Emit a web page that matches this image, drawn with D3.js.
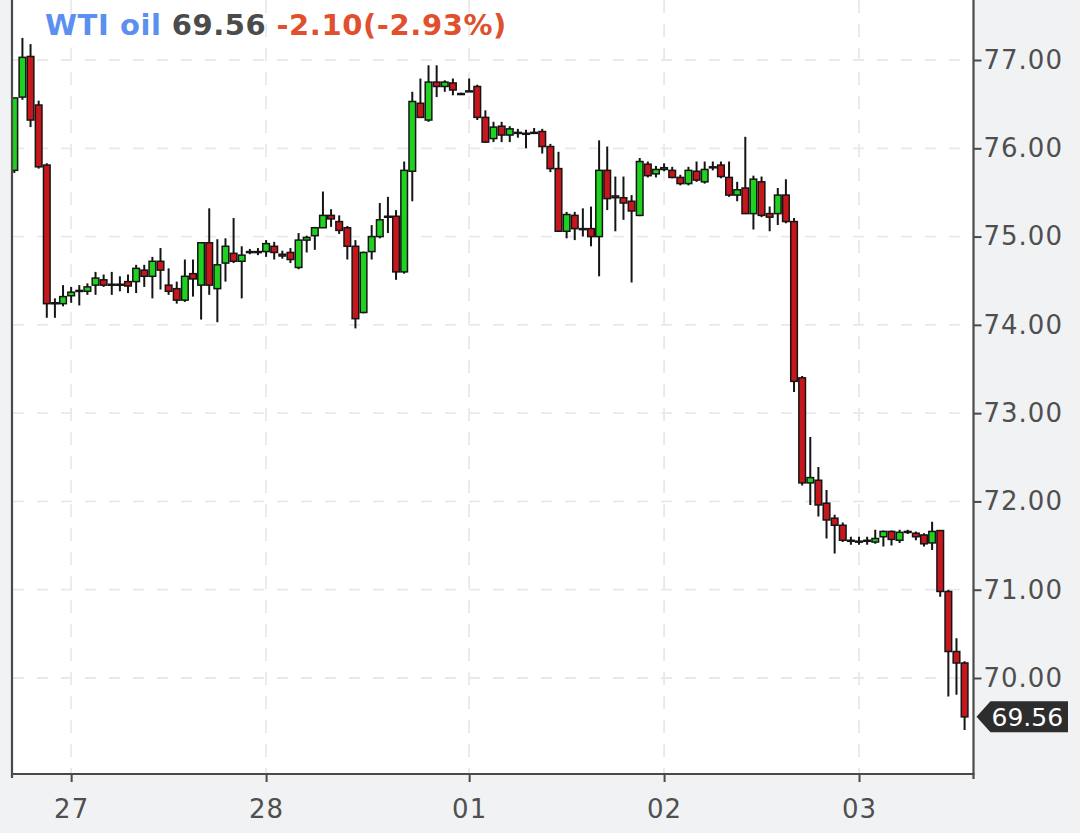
<!DOCTYPE html>
<html>
<head>
<meta charset="utf-8">
<script src="https://cdn.jsdelivr.net/npm/d3@7"></script>
<style>
  html, body { margin: 0; padding: 0; background: #f1f2f4; }
  svg { display: block; }
</style>
</head>
<body>
<svg id="chart_svg" width="1080" height="833"></svg>
<script>
// hourly candles
var opens = [75.75, 76.58, 77.04, 76.49, 75.81, 74.24, 74.24, 74.33, 74.39, 74.38,
    74.45, 74.51, 74.45, 74.46, 74.49, 74.49, 74.62, 74.55, 74.72, 74.45,
    74.41, 74.28, 74.58, 74.45, 74.93, 74.41, 74.70, 74.81, 74.72, 74.82,
    74.83, 74.83, 74.89, 74.80, 74.82, 74.65, 74.96, 75.01, 75.10, 75.24,
    75.17, 75.10, 74.89, 74.14, 74.83, 75.00, 75.22, 75.23, 74.60, 75.74,
    76.51, 76.32, 76.75, 76.70, 76.74, 76.62, 76.65, 76.70, 76.35, 76.11,
    76.25, 76.15, 76.18, 76.17, 76.18, 76.19, 76.02, 75.77, 75.06, 75.24,
    75.09, 75.09, 75.00, 75.75, 75.46, 75.44, 75.40, 75.24, 75.82, 75.71,
    75.76, 75.75, 75.67, 75.60, 75.74, 75.62, 75.79, 75.81, 75.67, 75.47,
    75.55, 75.26, 75.62, 75.26, 75.26, 75.47, 75.17, 73.40, 72.21, 72.24,
    71.98, 71.81, 71.73, 71.56, 71.55, 71.55, 71.54, 71.60, 71.66, 71.56,
    71.66, 71.64, 71.62, 71.53, 71.67, 70.98, 70.30, 70.17];
var highs = [76.57, 77.25, 77.18, 76.54, 75.83, 74.30, 74.45, 74.43, 74.45, 74.47,
    74.60, 74.57, 74.60, 74.55, 74.57, 74.68, 74.68, 74.77, 74.87, 74.64,
    74.49, 74.74, 74.74, 74.93, 75.32, 74.97, 74.98, 75.21, 74.89, 74.86,
    74.87, 74.96, 74.94, 74.84, 74.87, 75.04, 75.01, 75.11, 75.51, 75.31,
    75.24, 75.12, 74.96, 74.83, 75.13, 75.38, 75.45, 75.30, 75.85, 76.64,
    76.79, 76.94, 76.94, 76.77, 76.79, 76.63, 76.79, 76.72, 76.43, 76.30,
    76.30, 76.25, 76.22, 76.21, 76.23, 76.22, 76.05, 75.96, 75.28, 75.28,
    75.32, 75.34, 76.09, 76.02, 75.68, 75.68, 75.47, 75.89, 75.85, 75.80,
    75.83, 75.79, 75.70, 75.79, 75.85, 75.85, 75.85, 75.85, 75.85, 75.62,
    76.13, 75.69, 75.68, 75.34, 75.55, 75.65, 75.21, 73.42, 72.73, 72.39,
    72.13, 71.85, 71.76, 71.60, 71.60, 71.60, 71.68, 71.67, 71.67, 71.68,
    71.68, 71.66, 71.64, 71.77, 71.67, 71.00, 70.45, 70.19];
var lows = [75.72, 76.55, 76.24, 75.77, 74.08, 74.08, 74.21, 74.25, 74.22, 74.34,
    74.34, 74.43, 74.34, 74.38, 74.36, 74.36, 74.43, 74.30, 74.40, 74.34,
    74.24, 74.26, 74.32, 74.06, 74.34, 74.03, 74.49, 74.70, 74.30, 74.80,
    74.79, 74.77, 74.74, 74.75, 74.70, 74.63, 74.82, 74.85, 75.10, 75.11,
    75.03, 74.74, 73.96, 74.13, 74.74, 74.98, 75.04, 74.51, 74.58, 75.40,
    76.35, 76.30, 76.58, 76.64, 76.60, 76.61, 76.64, 76.32, 76.06, 76.07,
    76.07, 76.07, 76.12, 76.00, 76.17, 75.94, 75.73, 75.06, 74.98, 74.96,
    75.00, 74.89, 74.55, 75.30, 75.06, 75.19, 74.48, 75.23, 75.67, 75.67,
    75.74, 75.66, 75.58, 75.58, 75.62, 75.60, 75.75, 75.66, 75.45, 75.40,
    75.26, 75.08, 75.22, 75.06, 75.13, 75.15, 73.24, 72.18, 71.96, 71.83,
    71.58, 71.41, 71.54, 71.51, 71.51, 71.51, 71.52, 71.49, 71.50, 71.53,
    71.63, 71.56, 71.49, 71.45, 70.92, 69.79, 69.81, 69.41];
var closes = [76.57, 77.03, 76.32, 75.79, 74.24, 74.25, 74.32, 74.37, 74.39, 74.43,
    74.53, 74.45, 74.46, 74.46, 74.44, 74.64, 74.55, 74.72, 74.62, 74.38,
    74.28, 74.55, 74.52, 74.93, 74.45, 74.68, 74.89, 74.72, 74.79, 74.83,
    74.83, 74.92, 74.82, 74.78, 74.74, 74.96, 74.99, 75.10, 75.24, 75.20,
    75.07, 74.89, 74.07, 74.82, 75.00, 75.19, 75.23, 74.60, 75.75, 76.53,
    76.35, 76.75, 76.70, 76.75, 76.66, 76.62, 76.65, 76.35, 76.07, 76.24,
    76.15, 76.22, 76.18, 76.17, 76.18, 76.02, 75.77, 75.06, 75.25, 75.09,
    75.09, 75.00, 75.75, 75.43, 75.44, 75.38, 75.29, 75.85, 75.69, 75.76,
    75.78, 75.67, 75.60, 75.75, 75.64, 75.76, 75.79, 75.68, 75.47, 75.53,
    75.26, 75.65, 75.24, 75.22, 75.47, 75.17, 73.36, 72.21, 72.27, 71.96,
    71.79, 71.73, 71.56, 71.56, 71.55, 71.56, 71.58, 71.66, 71.57, 71.65,
    71.66, 71.60, 71.52, 71.66, 70.98, 70.30, 70.17, 69.56];

// x axis: candle index where each day starts
var day_tick_index = [7, 31, 56, 80, 104];
var day_tick_labels = ["27", "28", "01", "02", "03"];
var price_ticks = [70, 71, 72, 73, 74, 75, 76, 77];

var title_name = "WTI oil";
var title_last = "69.56";
var title_change = "-2.10(-2.93%)";

var g_plot_left = 13, g_plot_right = 973.5, g_plot_bottom = 774;
var g_green = "#1fd21f", g_red = "#c8161d";
var x, y, g_svg;

initialize_svg();
draw_grid();
draw_candles();
draw_axes();
draw_title();
draw_last_price();

function initialize_svg() {
    g_svg = d3.select("#chart_svg");
    x = d3.scaleLinear().domain([0, 117]).range([14.3, 964.6]);
    y = d3.scaleLinear().domain([70, 77]).range([678, 60]);

    g_svg.append("rect") // plot background
        .attr("x", g_plot_left).attr("y", 0)
        .attr("width", g_plot_right - g_plot_left).attr("height", g_plot_bottom)
        .attr("fill", "#ffffff");
    g_svg.append("clipPath").attr("id", "plot_clip").append("rect")
        .attr("x", g_plot_left).attr("y", 0)
        .attr("width", g_plot_right - g_plot_left).attr("height", g_plot_bottom);
}

function draw_grid() {
    var g = g_svg.append("g").attr("clip-path", "url(#plot_clip)");
    g.selectAll(".hgrid").data(price_ticks).join("line").classed("hgrid", true)
        .attr("x1", g_plot_left).attr("x2", g_plot_right)
        .attr("y1", d => y(d)).attr("y2", d => y(d))
        .attr("stroke-dasharray", "11 13")
        .attr("style", "stroke:#e9e9e9; stroke-width:1.8");
    g.selectAll(".vgrid").data(day_tick_index).join("line").classed("vgrid", true)
        .attr("x1", d => x(d)).attr("x2", d => x(d))
        .attr("y1", 0).attr("y2", g_plot_bottom)
        .attr("stroke-dasharray", "13 11")
        .attr("style", "stroke:#e9e9e9; stroke-width:1.8");
}

function draw_candles() {
    var candles = d3.range(opens.length).map(function (i) {
        return { i: i, o: opens[i], h: highs[i], l: lows[i], c: closes[i] };
    });
    var step = x(1) - x(0);
    var bw = step - 1.5; // body width, stroke fills the gap

    var g = g_svg.append("g").attr("clip-path", "url(#plot_clip)");
    g.selectAll(".wick").data(candles).join("line").classed("wick", true)
        .attr("x1", d => x(d.i)).attr("x2", d => x(d.i))
        .attr("y1", d => y(d.h)).attr("y2", d => y(d.l))
        .attr("style", "stroke:#151515; stroke-width:2");
    g.selectAll(".body").data(candles).join("rect").classed("body", true)
        .attr("x", d => x(d.i) - bw / 2).attr("width", bw)
        .attr("y", d => y(Math.max(d.o, d.c)))
        .attr("height", d => Math.max(1, Math.abs(y(d.o) - y(d.c))))
        .attr("fill", d => d.c >= d.o ? g_green : g_red)
        .attr("style", "stroke:#151515; stroke-width:1.5");
}

function draw_axes() {
    var y_axis = d3.axisRight(y).tickValues(price_ticks)
        .tickFormat(d3.format(".2f")).tickSize(8).tickPadding(2);
    var gy = g_svg.append("g").attr("transform", "translate(" + g_plot_right + ",0)").call(y_axis);
    gy.select(".domain").remove();

    var x_axis = d3.axisBottom(x).tickValues(day_tick_index)
        .tickFormat((d, i) => day_tick_labels[i]).tickSize(8).tickPadding(18);
    var gx = g_svg.append("g").attr("transform", "translate(0," + g_plot_bottom + ")").call(x_axis);
    gx.select(".domain").remove();

    g_svg.selectAll(".tick line").attr("style", "stroke:#4a4a4a; stroke-width:2");
    g_svg.selectAll(".tick text")
        .attr("style", "fill:#4f4f4f; font-family:'DejaVu Sans'; font-size:26px; letter-spacing:1px");

    // frame lines
    var frame = [
        [g_plot_left - 1, 0, g_plot_left - 1, g_plot_bottom + 4],
        [g_plot_left - 2, g_plot_bottom, g_plot_right + 1, g_plot_bottom],
        [g_plot_right, 0, g_plot_right, g_plot_bottom + 5]
    ];
    g_svg.selectAll(".frame").data(frame).join("line").classed("frame", true)
        .attr("x1", d => d[0]).attr("y1", d => d[1])
        .attr("x2", d => d[2]).attr("y2", d => d[3])
        .attr("style", "stroke:#4a4a4a; stroke-width:2.2");
}

function draw_title() {
    var t = g_svg.append("text").attr("x", 45).attr("y", 35)
        .attr("style", "font-family:'DejaVu Sans'; font-weight:bold; font-size:29px; letter-spacing:0.6px");
    t.append("tspan").attr("fill", "#5b8ff0").text(title_name);
    t.append("tspan").attr("fill", "#4b4b4b").attr("dx", 10).text(title_last);
    t.append("tspan").attr("fill", "#e0502e").attr("dx", 10).text(title_change);
}

function draw_last_price() {
    var last = closes[closes.length - 1];
    var ly = y(last);
    var x0 = g_plot_right + 3, x1 = x0 + 14, x2 = 1068, h = 15.5;
    g_svg.append("polygon")
        .attr("points", [[x0, ly], [x1, ly - h], [x2, ly - h], [x2, ly + h], [x1, ly + h]].join(" "))
        .attr("fill", "#2d2d2d");
    g_svg.append("text").attr("x", x1 + 1).attr("y", ly).attr("dy", "0.36em")
        .attr("style", "fill:#ffffff; font-family:'DejaVu Sans'; font-size:25px")
        .text(d3.format(".2f")(last));
}
</script>
</body>
</html>
